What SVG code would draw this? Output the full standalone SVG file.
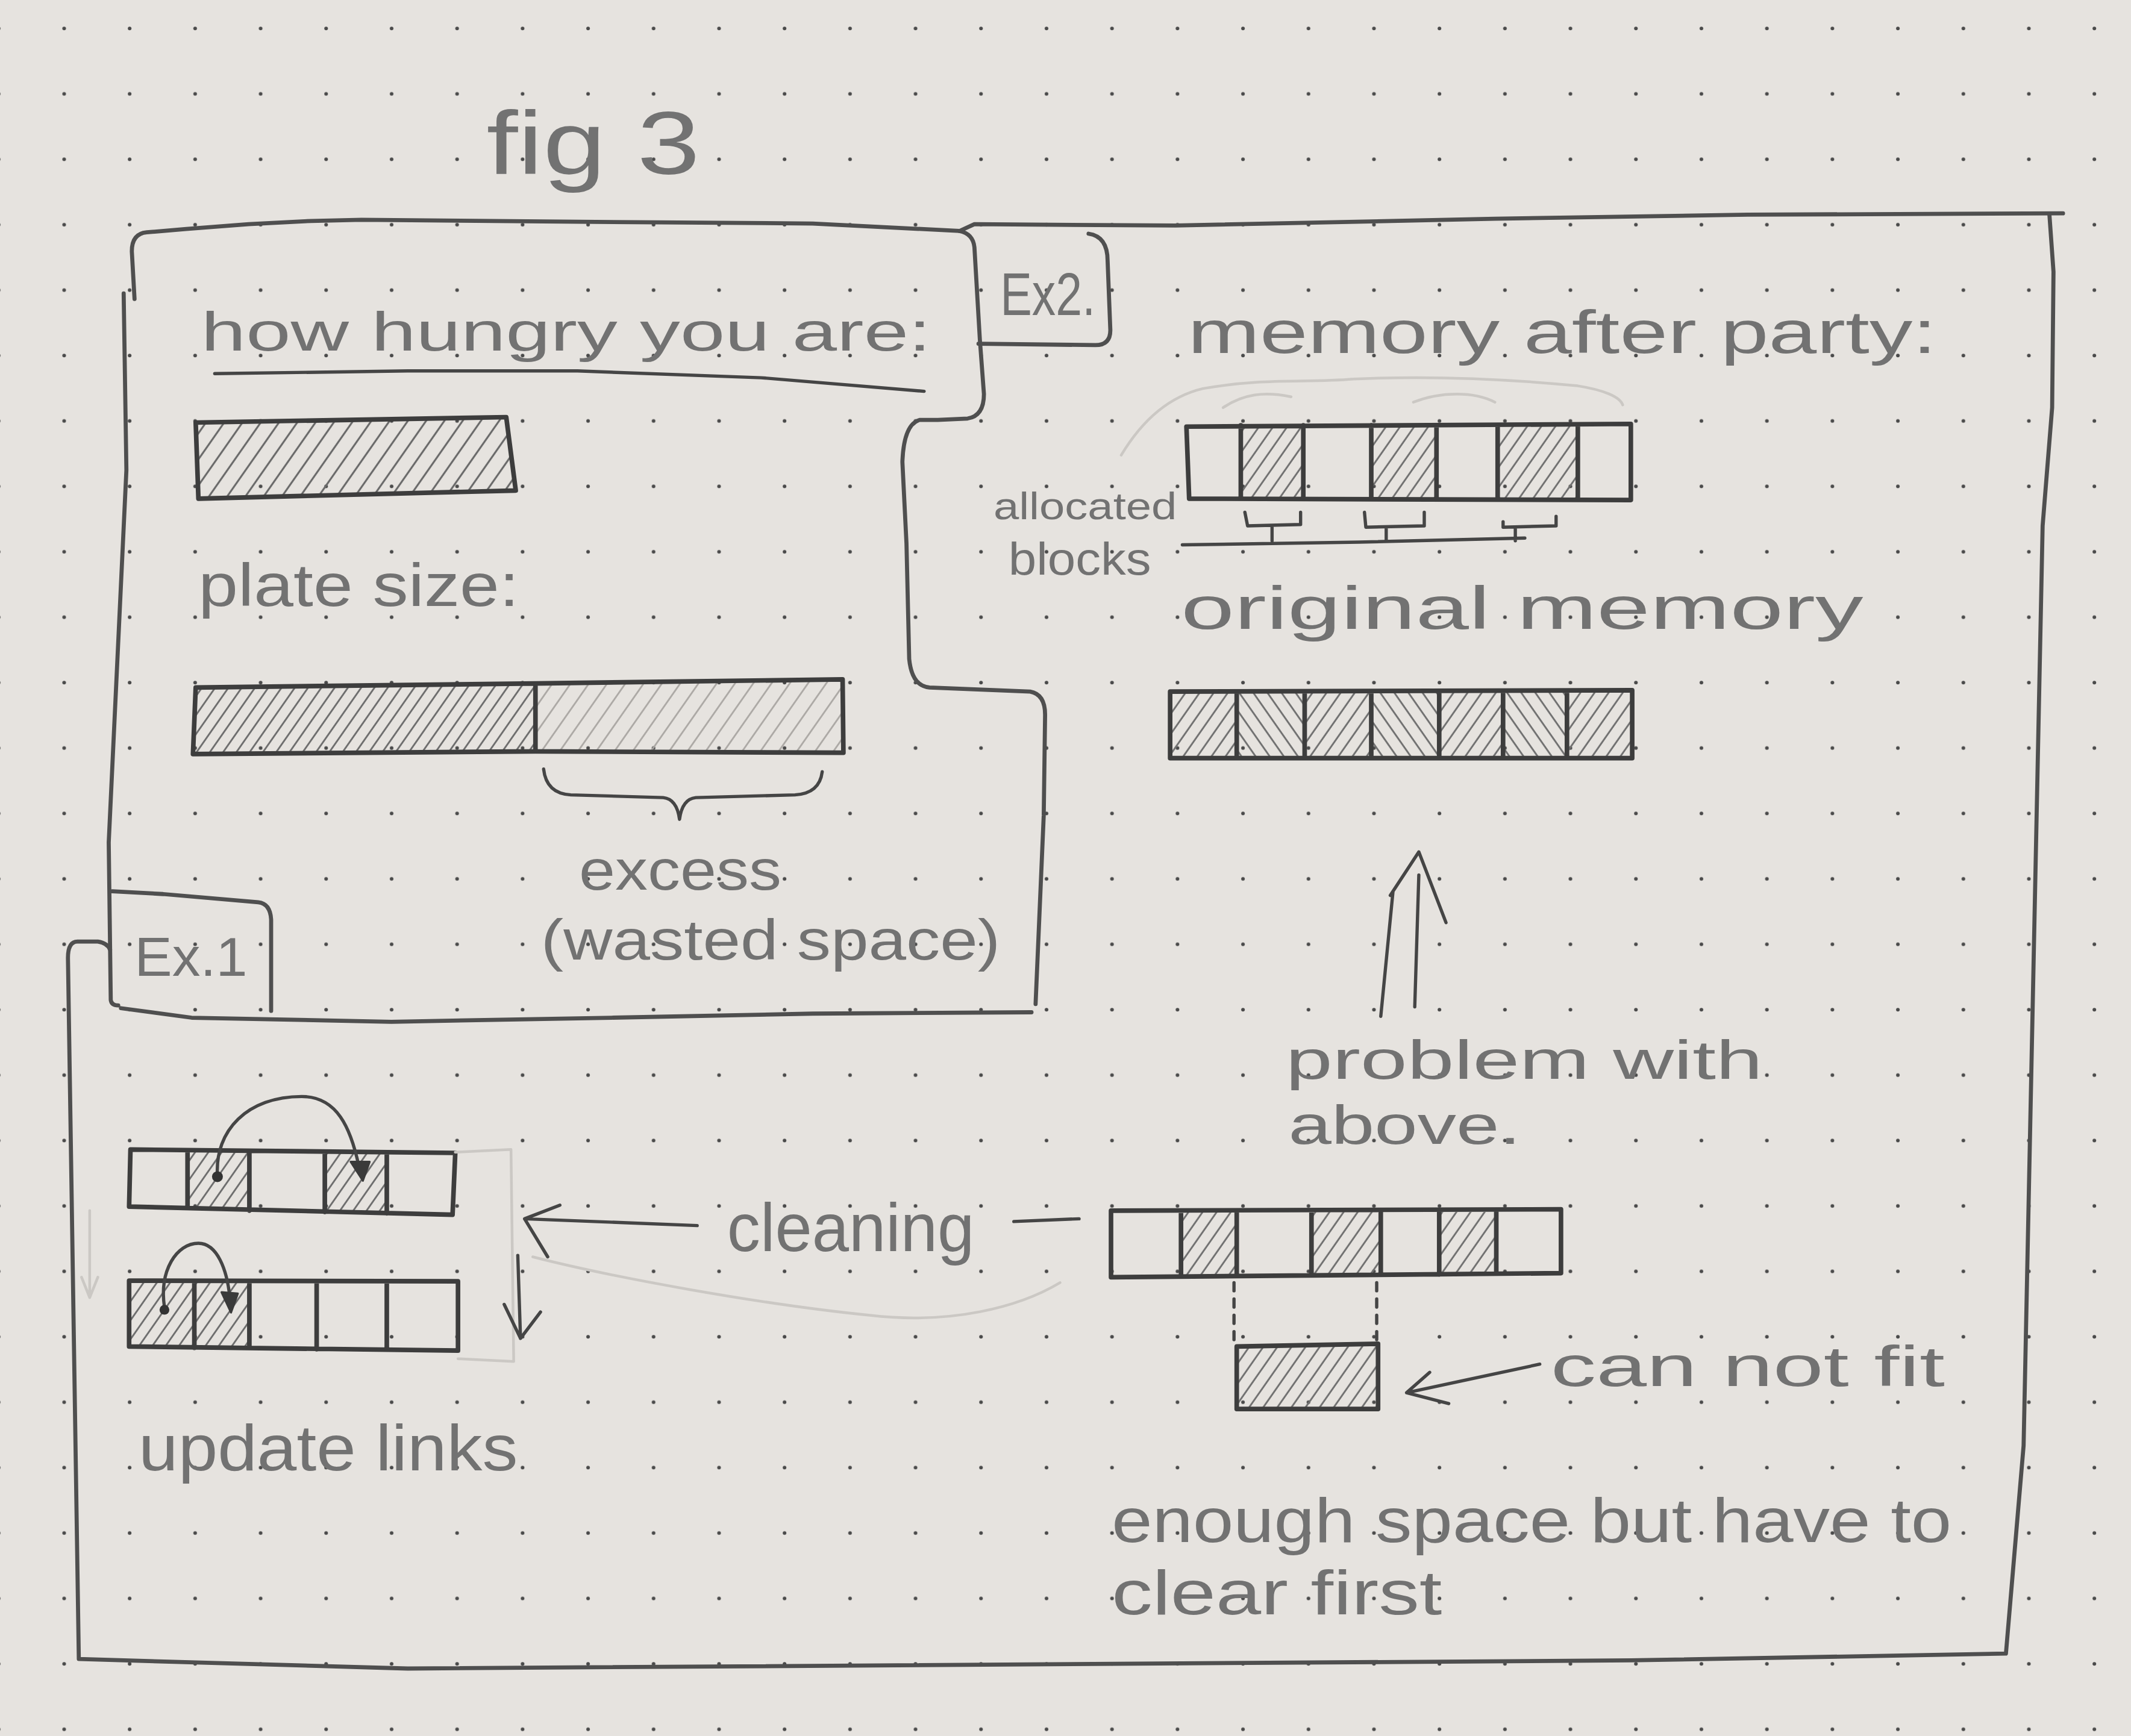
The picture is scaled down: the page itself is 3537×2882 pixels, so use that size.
<svg xmlns="http://www.w3.org/2000/svg" width="3537" height="2882" viewBox="0 0 3537 2882">
<defs>
<style>
.ln{fill:none;stroke:#4f4f4f;stroke-width:3;stroke-linecap:round;stroke-linejoin:round}
.bar{fill:none;stroke:#3d3d3d;stroke-width:3.4;stroke-linecap:round;stroke-linejoin:round}
.thin{fill:none;stroke:#454545;stroke-width:2.4;stroke-linecap:round;stroke-linejoin:round}
.faint{fill:none;stroke:#cbc8c4;stroke-width:2;stroke-linecap:round;stroke-linejoin:round}
.head{fill:#3a3a3a;stroke:#3a3a3a;stroke-width:1.5;stroke-linejoin:round}
.t{font-family:"Liberation Sans",Arial,sans-serif;fill:#727272}
</style>
<pattern id="dots" patternUnits="userSpaceOnUse" x="51.5" y="101.8" width="108.7" height="108.6"><circle cx="55" cy="54" r="3" fill="#4a4a4a"/></pattern>
<pattern id="hA" patternUnits="userSpaceOnUse" width="11" height="11" patternTransform="rotate(35)"><line x1="5.5" y1="0" x2="5.5" y2="11" stroke="#6a6a6a" stroke-width="1.4"/></pattern>
<pattern id="hD" patternUnits="userSpaceOnUse" width="8" height="8" patternTransform="rotate(35)"><line x1="4" y1="0" x2="4" y2="8" stroke="#6e6e6e" stroke-width="1.3"/></pattern>
<pattern id="hL" patternUnits="userSpaceOnUse" width="11" height="11" patternTransform="rotate(35)"><line x1="5.5" y1="0" x2="5.5" y2="11" stroke="#a9a6a2" stroke-width="1.2"/></pattern>
<pattern id="hS" patternUnits="userSpaceOnUse" width="8.5" height="8.5" patternTransform="rotate(35)"><line x1="4" y1="0" x2="4" y2="8.5" stroke="#707070" stroke-width="1.3"/></pattern>
<pattern id="hB" patternUnits="userSpaceOnUse" width="8.5" height="8.5" patternTransform="rotate(-35)"><line x1="4" y1="0" x2="4" y2="8.5" stroke="#707070" stroke-width="1.3"/></pattern>
</defs>
<g id="paper">
<rect width="3537" height="2882" fill="#e6e3df"/>
<rect width="3537" height="2882" fill="url(#dots)"/>
</g>
<g transform="scale(2.2557)">
<g id="title"><text class="t" x="358" y="128" font-size="66" textLength="157" lengthAdjust="spacingAndGlyphs">fig 3</text></g>

<g id="ex1-region">
<path class="ln" d="M99,220 L97,185 Q97,172 108,171 L137,168.5 L183,165 L229,162.6 L266,161.8 L400,163 L598,164.5 L706,170"/>
<path class="ln" d="M91,216 L93,346 L80,620 L81.5,736 Q82,740 87,740"/>
<path class="ln" d="M706,170 Q716,172 717,182 L721,250 L724,290 Q724,306 712,308 L690,309 L677,309 Q665,312 664,340 L667,400 L669,485 Q671,505 684,506 L758,509 Q769,511 769,526 L768,600 L762,739"/>
<path class="ln" d="M89,742 L141,749 L288,752 L450,749 L598,746 L759,745"/>
</g>
<g id="ex1-tab">
<path class="ln" d="M82.6,656 L120,658 L190,664 Q199,665 199.5,677 L199.5,744"/>
<text class="t" x="99" y="718" font-size="40" textLength="83" lengthAdjust="spacingAndGlyphs">Ex.1</text>
</g>
<g id="ex2-region">
<path class="ln" d="M706,170 L717,165 L865,166 L1100,161 L1286,158 L1518,157"/>
<path class="ln" d="M1508,158 L1511,200 L1510,300 L1503,387 L1489,1064 L1476,1217 L1200,1222 L300,1228 L58,1221 L50,705 Q50,693 57,693 L72,693 Q79,694 81,699"/>
</g>
<g id="ex2-tab">
<path class="ln" d="M801,172 Q815,174 815,192 L817,243 Q817,254 806,254 L720,253"/>
<text class="t" x="736" y="232" font-size="44" textLength="70" lengthAdjust="spacingAndGlyphs">Ex2.</text>
</g>

<g id="hungry-label">
<text class="t" x="148" y="258" font-size="40" textLength="537" lengthAdjust="spacingAndGlyphs">how hungry you are:</text>
<path class="thin" d="M158,275 L300,273 L425,273 L560,278 L680,288" stroke="#555"/>
</g>
<g id="hungry-bar">
<polygon points="144,311 372.5,307 379.5,361 146,367" fill="url(#hA)"/>
<polygon class="bar" points="144,311 372.5,307 379.5,361 146,367"/>
</g>
<g id="plate-label"><text class="t" x="146" y="446" font-size="44" textLength="236" lengthAdjust="spacingAndGlyphs">plate size:</text></g>
<g id="plate-bar">
<polygon points="144,506 394,503 394,553 142,555" fill="url(#hD)"/>
<polygon points="394,503 620,500 620.6,554 394,553" fill="url(#hL)"/>
<path class="bar" d="M144,506 L394,503 L620,500 L620.6,554 L394,553 L142,555 Z M394,503 L394,553"/>
</g>
<g id="excess-label">
<text class="t" x="426" y="655" font-size="42" textLength="149" lengthAdjust="spacingAndGlyphs">excess</text>
<text class="t" x="398" y="706" font-size="42" textLength="338" lengthAdjust="spacingAndGlyphs">(wasted space)</text>
</g>

<g id="memory-after-label"><text class="t" x="874" y="260" font-size="44" textLength="551" lengthAdjust="spacingAndGlyphs">memory after party:</text></g>
<g id="memory-after-bar">
<path class="faint" d="M825,335 C840,310 860,292 885,286 C930,278 960,282 996,279 C1060,276 1120,280 1161,284 C1180,287 1192,292 1194,298 M900,300 C915,290 930,288 950,292 M1040,296 C1060,288 1085,288 1100,296"/>
<rect x="913" y="313" width="46" height="54" fill="url(#hS)"/>
<rect x="1009" y="313" width="48" height="54" fill="url(#hS)"/>
<rect x="1102" y="313" width="59" height="54" fill="url(#hS)"/>
<path class="bar" d="M873,314 L1200,312 L1200,368 L875,367 Z M913,313 L913,367 M959,313 L959,367 M1009,313 L1009,367 M1057,313 L1057,367 M1102,313 L1102,367 M1161,313 L1161,367"/>
</g>
<g id="allocated-label">
<text class="t" x="731" y="382" font-size="28" textLength="135" lengthAdjust="spacingAndGlyphs">allocated</text>
<text class="t" x="742" y="423" font-size="34" textLength="105" lengthAdjust="spacingAndGlyphs">blocks</text>
</g>
<g id="original-label"><text class="t" x="869" y="463" font-size="44" textLength="502" lengthAdjust="spacingAndGlyphs">original memory</text></g>
<g id="original-bar">
<rect x="861" y="509" width="49" height="49" fill="url(#hS)"/>
<rect x="910" y="509" width="50" height="49" fill="url(#hB)"/>
<rect x="960" y="509" width="49" height="49" fill="url(#hS)"/>
<rect x="1009" y="509" width="50" height="49" fill="url(#hB)"/>
<rect x="1059" y="509" width="47" height="49" fill="url(#hS)"/>
<rect x="1106" y="509" width="47" height="49" fill="url(#hB)"/>
<rect x="1153" y="509" width="48" height="49" fill="url(#hS)"/>
<path class="bar" d="M861,509 L1201,508 L1201,558 L861,558 Z M910,509 L910,558 M960,509 L960,558 M1009,509 L1009,558 M1059,509 L1059,558 M1106,509 L1106,558 M1153,509 L1153,558"/>
</g>
<g id="problem-label">
<text class="t" x="946" y="794" font-size="40" textLength="351" lengthAdjust="spacingAndGlyphs">problem with</text>
<text class="t" x="948" y="842" font-size="40" textLength="171" lengthAdjust="spacingAndGlyphs">above.</text>
</g>
<g id="fragmented-bar">
<rect x="869" y="892" width="41" height="46" fill="url(#hS)"/>
<rect x="965" y="892" width="51" height="46" fill="url(#hS)"/>
<rect x="1059" y="892" width="42" height="46" fill="url(#hS)"/>
<path class="bar" d="M817.5,891 L1148.6,890 L1148.6,937 L817.5,940 Z M869,891 L869,939 M910,891 L910,939 M965,891 L965,938 M1016,891 L1016,938 M1059,891 L1059,938 M1101,891 L1101,937"/>
</g>
<g id="request-block">
<rect x="910" y="990" width="104" height="47" fill="url(#hS)"/>
<path class="bar" d="M910,991 L1014,989 L1014,1037 L910,1037 Z"/>
</g>
<g id="cannot-fit-label"><text class="t" x="1141" y="1020" font-size="42" textLength="290" lengthAdjust="spacingAndGlyphs">can not fit</text></g>
<g id="enough-space-label">
<text class="t" x="818" y="1135" font-size="46" textLength="618" lengthAdjust="spacingAndGlyphs">enough space but have to</text>
<text class="t" x="818" y="1188" font-size="46" textLength="243" lengthAdjust="spacingAndGlyphs">clear first</text>
</g>
<g id="cleaning-label"><text class="t" x="535" y="921" font-size="50" textLength="182" lengthAdjust="spacingAndGlyphs">cleaning</text></g>
<g id="ex1-bar-before">
<rect x="138" y="847" width="45.5" height="43" fill="url(#hD)"/>
<rect x="239" y="847" width="45.6" height="45" fill="url(#hD)"/>
<path class="bar" d="M96,846 L335,848.5 L333,894 L95,888 Z M138,847 L138,889 M183.5,847 L183.5,891 M239,848 L239,892 M284.6,848 L284.6,893"/>
</g>
<g id="ex1-bar-after">
<rect x="95" y="943" width="88.5" height="49" fill="url(#hD)"/>
<path class="bar" d="M95,942.5 L337,943 L337,994 L95,991 Z M143,943 L143,992 M183.5,943 L183.5,992 M233,943 L233,993 M284.6,943 L284.6,993"/>
</g>
<g id="update-label"><text class="t" x="102" y="1082" font-size="48" textLength="279" lengthAdjust="spacingAndGlyphs">update links</text></g>

<g id="connectors">
<path class="faint" d="M335,848 L376,846 L378,1002 L337,1000"/>
<path class="faint" d="M66,891 L66,955 M60,940 L66,955 L72,940"/>
<path class="faint" d="M392,925 C450,940 560,960 640,968 C700,975 750,962 780,944"/>
<path class="thin" d="M400,566 Q402,584 420,585 L488,587 Q498,588 500,603 Q502,588 512,587 L585,585 Q603,584 605,568"/>
<path class="thin" d="M916,377 L918,387 L957,386 L957,377 M936,387 L936,398 M1004,377 L1005,388 L1048,387 L1048,377 M1020,388 L1020,398 M1106,384 L1106,388 L1145,387 L1145,380 M1115,388 L1115,398 M870,401 L1000,399 L1122,396"/>
<path class="thin" d="M1016,748 L1025,656 M1041,741 L1044,644 M1023,659 L1044,627 L1064,679"/>
<path class="thin" d="M908,944 L908,986 M1013,944 L1013,986" stroke-dasharray="6 6"/>
<path class="thin" d="M1133,1004 L1035,1025 M1052,1010 L1035,1025 L1066,1033"/>
<path class="thin" d="M746,899 L794,897" stroke-width="4.5"/>
<path class="thin" d="M513,902 L386,897 M412,887 L386,897 L403,925"/>
<path class="thin" d="M381,924 L383,985 M371,960 L383,985 L397.7,965.6"/>
<path class="thin" d="M160,865 C158,832 182,807 222,807 C248,807 258,830 264,858"/>
<polygon class="head" points="258,855 272,855 267,869"/>
<circle cx="160" cy="866" r="4" fill="#333"/>
<path class="thin" d="M121,962 C117,935 130,915 146,915 C160,915 167,935 169,954"/>
<polygon class="head" points="163,951 175,952 170,966"/>
<circle cx="121" cy="964" r="3.6" fill="#333"/>
</g>
</g>
</svg>
